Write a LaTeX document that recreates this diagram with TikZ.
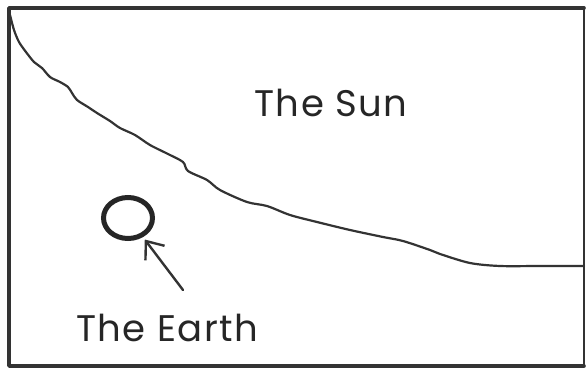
\documentclass[tikz,border=0pt]{standalone}
\usepackage{fontspec}
\setmainfont{Poppins}[LetterSpace=4]
\usetikzlibrary{arrows.meta,shapes.geometric}
\tikzset{
  inkline/.style={draw=black!80, line cap=round, line join=round},
  labeltext/.style={font=\fontsize{37}{40}\selectfont, text=black!85, inner sep=0pt},
}
\begin{document}
\begin{tikzpicture}[x=1pt,y=-1pt]
\useasboundingbox (0,0) rectangle (587,370);
% frame
\draw[inkline, line width=3.6pt] (584,8) -- (9,8) -- (9,366) -- (584,366);
\draw[inkline, line width=1.4pt] (584,8) -- (584,366);
% sun edge
\draw[inkline, line width=2.2pt] plot[smooth, tension=0.5] coordinates {
 (10,15) (14,30) (19,42) (26,52) (34,62) (42,68) (50,77) (60,82) (68,87) (72,93)
 (77,100) (88,107) (97,113) (110,121) (120,128) (135,135) (150,145) (168,154)
 (183,162) (188,171) (207,180) (220,190) (247,202) (267,206) (290,215) (317,222)
 (350,230) (383,237) (403,241) (430,250) (440,254) (470,263) (500,266) (540,266) (584,266)};
% earth
\node[draw=black!85, line width=5pt, ellipse, minimum width=49pt, minimum height=41pt, inner sep=0pt] (earth) at (128,218) {};
\coordinate (tail) at (183,290);
\draw[inkline, line width=2.4pt, shorten >=3pt, -{Straight Barb[length=15pt,width=24pt,line width=2.4pt]}] (tail) -- (earth.-52);
% labels
\node[labeltext] (sun) at (331,103) {The Sun};
\node[labeltext] (earthlabel) at (167,328) {The Earth};
\end{tikzpicture}
\end{document}
